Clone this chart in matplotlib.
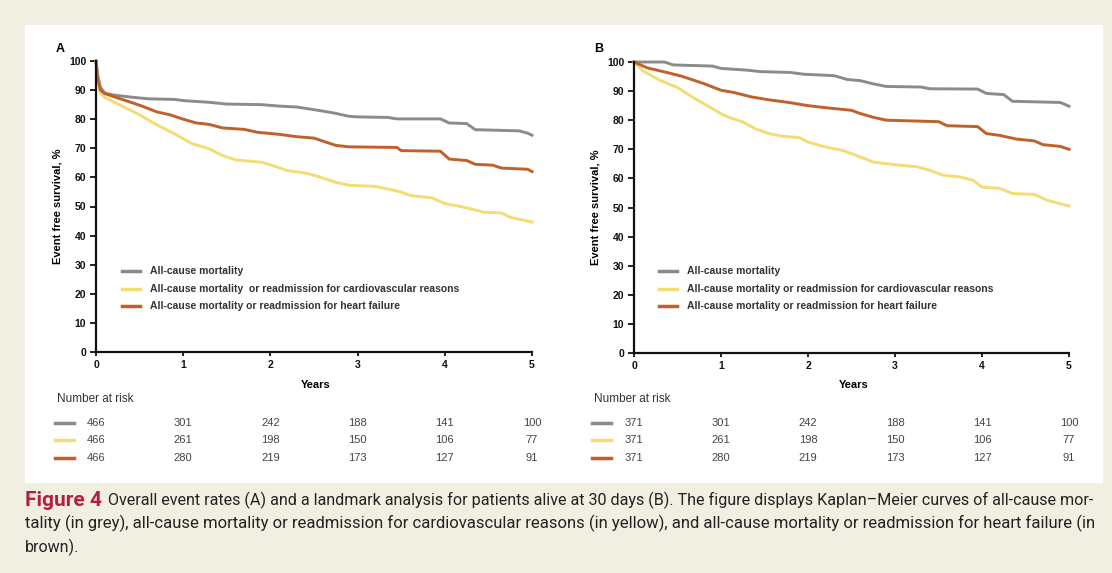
import matplotlib
matplotlib.use("Agg")
import matplotlib.pyplot as plt
from matplotlib.patches import Rectangle
import matplotlib.transforms as mtransforms

W, H = 1112, 573

# Kaplan-Meier curves (years, % event free)
a_grey_t = [0, 0.02, 0.05, 0.1, 0.2, 0.4, 0.6, 0.9, 1.0, 1.3, 1.5, 1.9, 2.1, 2.3, 2.45, 2.6, 2.75, 2.9, 3.0, 3.35, 3.45, 3.95, 4.05, 4.25, 4.35, 4.85, 4.95, 5.0]
a_grey_s = [100, 95, 91, 89, 88.3, 87.6, 87, 86.8, 86.4, 85.8, 85.2, 85, 84.5, 84.2, 83.5, 82.8, 82, 81, 80.8, 80.6, 80.1, 80.1, 78.7, 78.5, 76.4, 76, 75.2, 74.5]
a_yel_t = [0, 0.02, 0.05, 0.1, 0.3, 0.5, 0.7, 0.9, 1.1, 1.3, 1.45, 1.6, 1.9, 2.0, 2.2, 2.4, 2.55, 2.75, 2.9, 3.2, 3.35, 3.5, 3.6, 3.85, 4.0, 4.15, 4.35, 4.45, 4.65, 4.75, 4.9, 5.0]
a_yel_s = [100, 94, 89, 87.5, 84.5, 81.5, 78, 75, 71.6, 69.8, 67.5, 66, 65.2, 64.3, 62.3, 61.5, 60.3, 58.3, 57.3, 56.9, 56, 55, 53.8, 53, 51, 50.2, 48.8, 48, 47.8, 46.3, 45.3, 44.7]
a_brn_t = [0, 0.02, 0.05, 0.1, 0.3, 0.5, 0.7, 0.85, 1.0, 1.15, 1.3, 1.45, 1.7, 1.85, 2.1, 2.3, 2.5, 2.6, 2.75, 2.9, 3.45, 3.5, 3.95, 4.05, 4.25, 4.35, 4.55, 4.65, 4.95, 5.0]
a_brn_s = [100, 94, 90, 88.8, 86.8, 84.8, 82.5, 81.5, 80, 78.7, 78.2, 77, 76.5, 75.5, 74.8, 74, 73.5, 72.5, 71, 70.5, 70.3, 69.2, 69, 66.3, 65.8, 64.5, 64.2, 63.2, 62.8, 62]

b_grey_t = [0, 0.35, 0.45, 0.9, 1.0, 1.3, 1.45, 1.8, 1.95, 2.3, 2.45, 2.6, 2.75, 2.9, 3.3, 3.4, 3.95, 4.05, 4.25, 4.35, 4.9, 5.0]
b_grey_s = [100, 100, 99, 98.6, 97.8, 97.2, 96.7, 96.4, 95.8, 95.3, 94, 93.6, 92.5, 91.6, 91.4, 90.8, 90.7, 89.2, 88.8, 86.5, 86.1, 84.8]
b_yel_t = [0, 0.1, 0.3, 0.5, 0.7, 0.9, 1.0, 1.1, 1.25, 1.4, 1.55, 1.7, 1.9, 2.0, 2.2, 2.4, 2.6, 2.75, 3.0, 3.25, 3.4, 3.55, 3.75, 3.9, 4.0, 4.2, 4.35, 4.6, 4.75, 5.0]
b_yel_s = [100, 97, 93.7, 91.2, 87.4, 84, 82.2, 80.9, 79.4, 77, 75.4, 74.5, 74, 72.5, 70.8, 69.6, 67.4, 65.6, 64.7, 64, 62.8, 61.1, 60.5, 59.3, 57, 56.6, 54.8, 54.5, 52.5, 50.5]
b_brn_t = [0, 0.15, 0.35, 0.55, 0.8, 1.0, 1.15, 1.35, 1.55, 1.8, 2.0, 2.2, 2.5, 2.6, 2.75, 2.9, 3.5, 3.6, 3.95, 4.05, 4.2, 4.4, 4.6, 4.7, 4.9, 5.0]
b_brn_s = [100, 98, 96.6, 95.1, 92.6, 90.3, 89.5, 88, 87, 86, 85, 84.3, 83.4, 82.3, 81, 80, 79.5, 78.1, 77.8, 75.4, 74.8, 73.5, 72.9, 71.6, 71, 70]

years = [0, 1, 2, 3, 4, 5]
y_ticks = list(range(0, 101, 10))
risk_a = [[466, 301, 242, 188, 141, 100],
          [466, 261, 198, 150, 106, 77],
          [466, 280, 219, 173, 127, 91]]
risk_b = [[371, 301, 242, 188, 141, 100],
          [371, 261, 198, 150, 106, 77],
          [371, 280, 219, 173, 127, 91]]

labels_a = ["All-cause mortality",
            "All-cause mortality  or readmission for cardiovascular reasons",
            "All-cause mortality or readmission for heart failure"]
labels_b = ["All-cause mortality",
            "All-cause mortality or readmission for cardiovascular reasons",
            "All-cause mortality or readmission for heart failure"]

caption = [
    "Overall event rates (A) and a landmark analysis for patients alive at 30 days (B). "
    "The figure displays Kaplan\u2013Meier curves of all-cause mor-",
    "tality (in grey), all-cause mortality or readmission for cardiovascular reasons (in yellow), "
    "and all-cause mortality or readmission for heart failure (in",
    "brown).",
]

colors = ["#8b8b8b", "#f4dc74", "#c0602a"]
BG = "#f1efe2"
SANS = ["Liberation Sans", "DejaVu Sans"]
plt.rcParams["font.family"] = SANS

fig = plt.figure(figsize=(W / 100, H / 100), dpi=100, facecolor=BG)
fig.patches.append(Rectangle((25 / W, 1 - 483 / H), (1103 - 25) / W, (483 - 25) / H,
                             transform=fig.transFigure, facecolor="white", edgecolor="none", zorder=-5))


def fx(px):
    return px / W


def fy(py):
    return 1 - py / H


def panel(x0, x1, y0, y1, curves, labels, risk, letter, lx, leg_x, mark_x):
    ax = fig.add_axes([fx(x0), fy(y0), fx(x1 - x0), (y0 - y1) / H])
    ax.set_facecolor("none")
    ax.set_zorder(2)
    for (t, s), c in zip(curves, colors):
        ax.plot(t, s, color=c, lw=2.1, clip_on=False, solid_joinstyle="round")
    ax.set_xlim(0, 5)
    ax.set_ylim(0, 100)
    ax.set_xticks(years, labels=[str(v) for v in years], fontweight="bold")
    ax.set_yticks(y_ticks, labels=[str(v) for v in y_ticks], fontweight="bold")
    for sp in ["top", "right"]:
        ax.spines[sp].set_visible(False)
    for sp in ["left", "bottom"]:
        ax.spines[sp].set_linewidth(1.6)
        ax.spines[sp].set_color("#111111")
    ax.tick_params(direction="out", length=4, width=1.3, labelsize=7.5, pad=3, colors="#111111")
    ax.tick_params(axis="x", length=3)
    ax.set_ylabel("Event free survival, %", fontsize=8, fontweight="bold")
    ax.yaxis.set_label_coords(-(x0 - lx) / (x1 - x0), 0.5)
    fig.text(fx(x0 - 40), fy(49), letter, fontsize=9, fontweight="bold", va="center")
    fig.text(fx((x0 + x1) / 2 + 2), fy(385), "Years", fontsize=8, fontweight="bold",
             ha="center", va="center")

    # legend inside the axes
    for i, (lab, c) in enumerate(zip(labels, colors)):
        yy = [271, 289, 306][i]
        fig.add_artist(plt.Line2D([fx(leg_x), fx(leg_x + 18)], [fy(yy), fy(yy)], color=c, lw=2.5))
        fig.text(fx(leg_x + 28), fy(yy), lab, fontsize=7.5, fontweight="bold",
                 va="center", color="#333333")

    # number at risk table
    fig.text(fx(mark_x + 2), fy(399), "Number at risk", fontsize=8.5, va="center", color="#333333")
    trans = mtransforms.blended_transform_factory(ax.transData, fig.transFigure)
    for i, (row, c) in enumerate(zip(risk, colors)):
        yy = [423, 440, 458][i]
        fig.add_artist(plt.Line2D([fx(mark_x), fx(mark_x + 19)], [fy(yy), fy(yy)], color=c, lw=2.5))
        for x, n in zip(years, row):
            fig.text(x, fy(yy), str(n), transform=trans, fontsize=8,
                     ha="center", va="center", color="#444444")
    return ax


panel(96, 532, 352, 61,
      [(a_grey_t, a_grey_s), (a_yel_t, a_yel_s), (a_brn_t, a_brn_s)],
      labels_a, risk_a, "A", 62, 122, 55)
panel(634, 1069, 353, 62,
      [(b_grey_t, b_grey_s), (b_yel_t, b_yel_s), (b_brn_t, b_brn_s)],
      labels_b, risk_b, "B", 601, 659, 592)

# caption, each full line shrunk to the width it takes in the figure
CAP = ["Roboto", "DejaVu Sans"]
renderer = fig.canvas.get_renderer()
fig.text(fx(25), fy(500), "Figure 4", fontsize=15, fontweight="bold", color="#b3203f", family=CAP, va="center")
starts = [108, 25, 25]
ends = [1101, 1101, None]
rows = [500, 523, 547]
size = 11.5
for line, x0, x1, yy in zip(caption, starts, ends, rows):
    t = fig.text(fx(x0), fy(yy), line, fontsize=size, family=CAP, va="center", color="#222222")
    if x1 is not None:
        w = t.get_window_extent(renderer).width
        size_fit = size * (x1 - x0) / w
        t.set_fontsize(size_fit)
        size = min(size, size_fit)

fig.savefig("out.png", dpi=100, facecolor=BG)
